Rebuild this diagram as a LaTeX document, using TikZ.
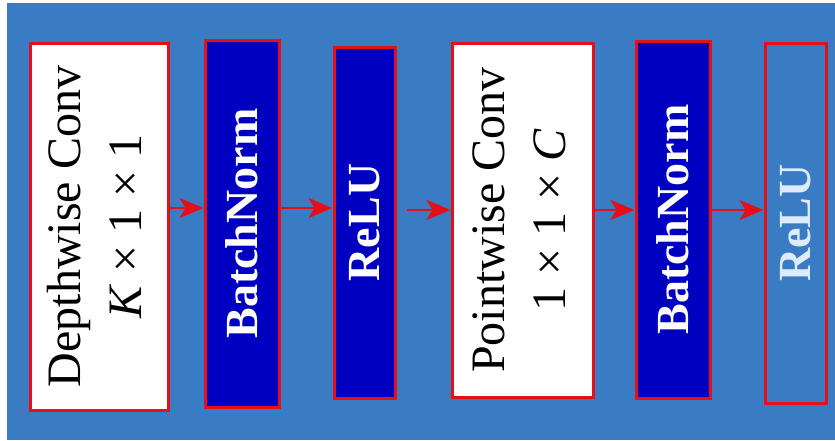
\documentclass[tikz,border=0pt]{standalone}
\usepackage{fontspec}
\setmainfont{Liberation Serif}
\usetikzlibrary{arrows.meta}

\definecolor{bgblue}{RGB}{58,124,196}
\definecolor{darkblue}{RGB}{0,0,192}
\definecolor{boxred}{RGB}{228,16,24}
\definecolor{paleblue}{RGB}{222,236,250}

\tikzset{
    box/.style={draw=boxred,line width=1.5pt,inner sep=0pt},
    convbox/.style={box,fill=white,text=black,font=\fontsize{24}{30.5}\selectfont},
    normbox/.style={box,fill=darkblue,text=white,font=\fontsize{23}{28}\selectfont\bfseries},
    lastbox/.style={box,fill=bgblue,text=paleblue,font=\fontsize{23}{28}\selectfont\bfseries},
    flow/.style={-{Stealth[length=12pt,width=10pt,inset=3pt]},boxred,line width=1.4pt}
}

\begin{document}
\begin{tikzpicture}[x=0.5pt,y=-0.5pt]
    \fill[white](0,0)rectangle(835,440);
    \fill[bgblue](7,3)rectangle(835,440);

    \node[convbox,minimum width=69pt,minimum height=183.5pt](dwconv)at(99,226.5)
        {\rotatebox{90}{\begin{tabular}{@{}c@{}}Depthwise Conv\\\textit{K} × 1 × 1\end{tabular}}};
    \node[normbox,minimum width=37pt,minimum height=183.5pt](bn1)at(242,223.5){\rotatebox{90}{BatchNorm}};
    \node[normbox,minimum width=30.5pt,minimum height=175.5pt](relu1)at(364.5,222.5){\rotatebox{90}{ReLU}};
    \node[convbox,minimum width=70.5pt,minimum height=177pt](pwconv)at(522.5,220)
        {\rotatebox{90}{\begin{tabular}{@{}c@{}}Pointwise Conv\\1 × 1 × \textit{C}\end{tabular}}};
    \node[normbox,minimum width=37pt,minimum height=178.5pt](bn2)at(673,219.5){\rotatebox{90}{BatchNorm}};
    \node[lastbox,minimum width=30.5pt,minimum height=180pt](relu2)at(795.5,223){\rotatebox{90}{ReLU}};

    \draw[flow](dwconv.east|-0,208)--(bn1.west|-0,208);
    \draw[flow](bn1.east|-0,208)--(relu1.west|-0,208);
    \draw[flow]([xshift=5pt]relu1.east|-0,210)--(pwconv.west|-0,210);
    \draw[flow](pwconv.east|-0,210)--(bn2.west|-0,210);
    \draw[flow](bn2.east|-0,210)--(relu2.west|-0,210);
\end{tikzpicture}
\end{document}
